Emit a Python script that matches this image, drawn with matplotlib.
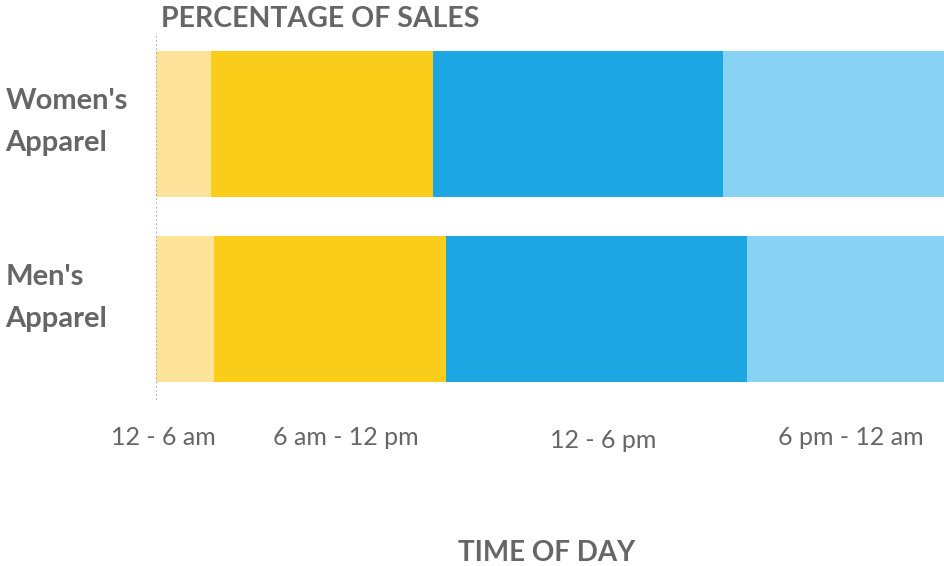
import matplotlib.pyplot as plt
import numpy as np

plt.rcParams['font.family'] = ['Lato', 'DejaVu Sans']

# share of sales (%) per time slot
categories = ["Women's\nApparel", "Men's\nApparel"]
slots = ["12 - 6 am", "6 am - 12 pm", "12 - 6 pm", "6 pm - 12 am"]
women = [7.0, 28.1, 36.8, 28.1]
men = [7.4, 29.4, 38.1, 25.1]
slot_label_x = [0.9, 24.1, 56.7, 88.0]
colors = ['#FDE29A', '#FBCD1B', '#1CA7E3', '#88D2F3']
grey = '#666666'

fig = plt.figure(figsize=(9.45, 5.66), dpi=100)
ax = fig.add_axes([156 / 945, 1 - 400 / 566, 789 / 945, 367 / 566])

data = np.array([women, men])
ypos = np.arange(len(categories))
left = np.zeros(len(categories))
for i in range(len(slots)):
    ax.barh(ypos, data[:, i], left=left, height=0.79, color=colors[i], linewidth=0)
    left += data[:, i]

ax.set_xlim(0, 100)
ax.set_ylim(1.495, -0.495)
ax.axvline(0, color='#9a9a9a', linestyle=(0, (1, 1.5)), linewidth=1.2, zorder=5)

for s in ax.spines.values():
    s.set_visible(False)
ax.set_xticks([])
ax.set_yticks([])

# category labels on the left (men's label sits a bit above its bar centre)
for y, name, dy in zip(ypos, categories, [-0.014, -0.06]):
    ax.text(-156 / 789 * 100 + 0.7, y + dy, name, ha='left', va='center',
            fontsize=21, fontweight='bold', color=grey, linespacing=1.75)

# time slot labels under the bars
trans = ax.get_xaxis_transform()
for x, lab, dy in zip(slot_label_x, slots, [0, 0, -0.008, 0]):
    ax.text(x, -0.103 + dy, lab, transform=trans, ha='center', va='center',
            fontsize=18, color=grey)

fig.text(161 / 945, 1 - 19 / 566, 'PERCENTAGE OF SALES', ha='left', va='center',
         fontsize=20.5, fontweight='bold', color=grey)
fig.text(547 / 945, 1 - 553 / 566, 'TIME OF DAY', ha='center', va='center',
         fontsize=20, fontweight='bold', color=grey)

fig.savefig('out.png', dpi=100)
